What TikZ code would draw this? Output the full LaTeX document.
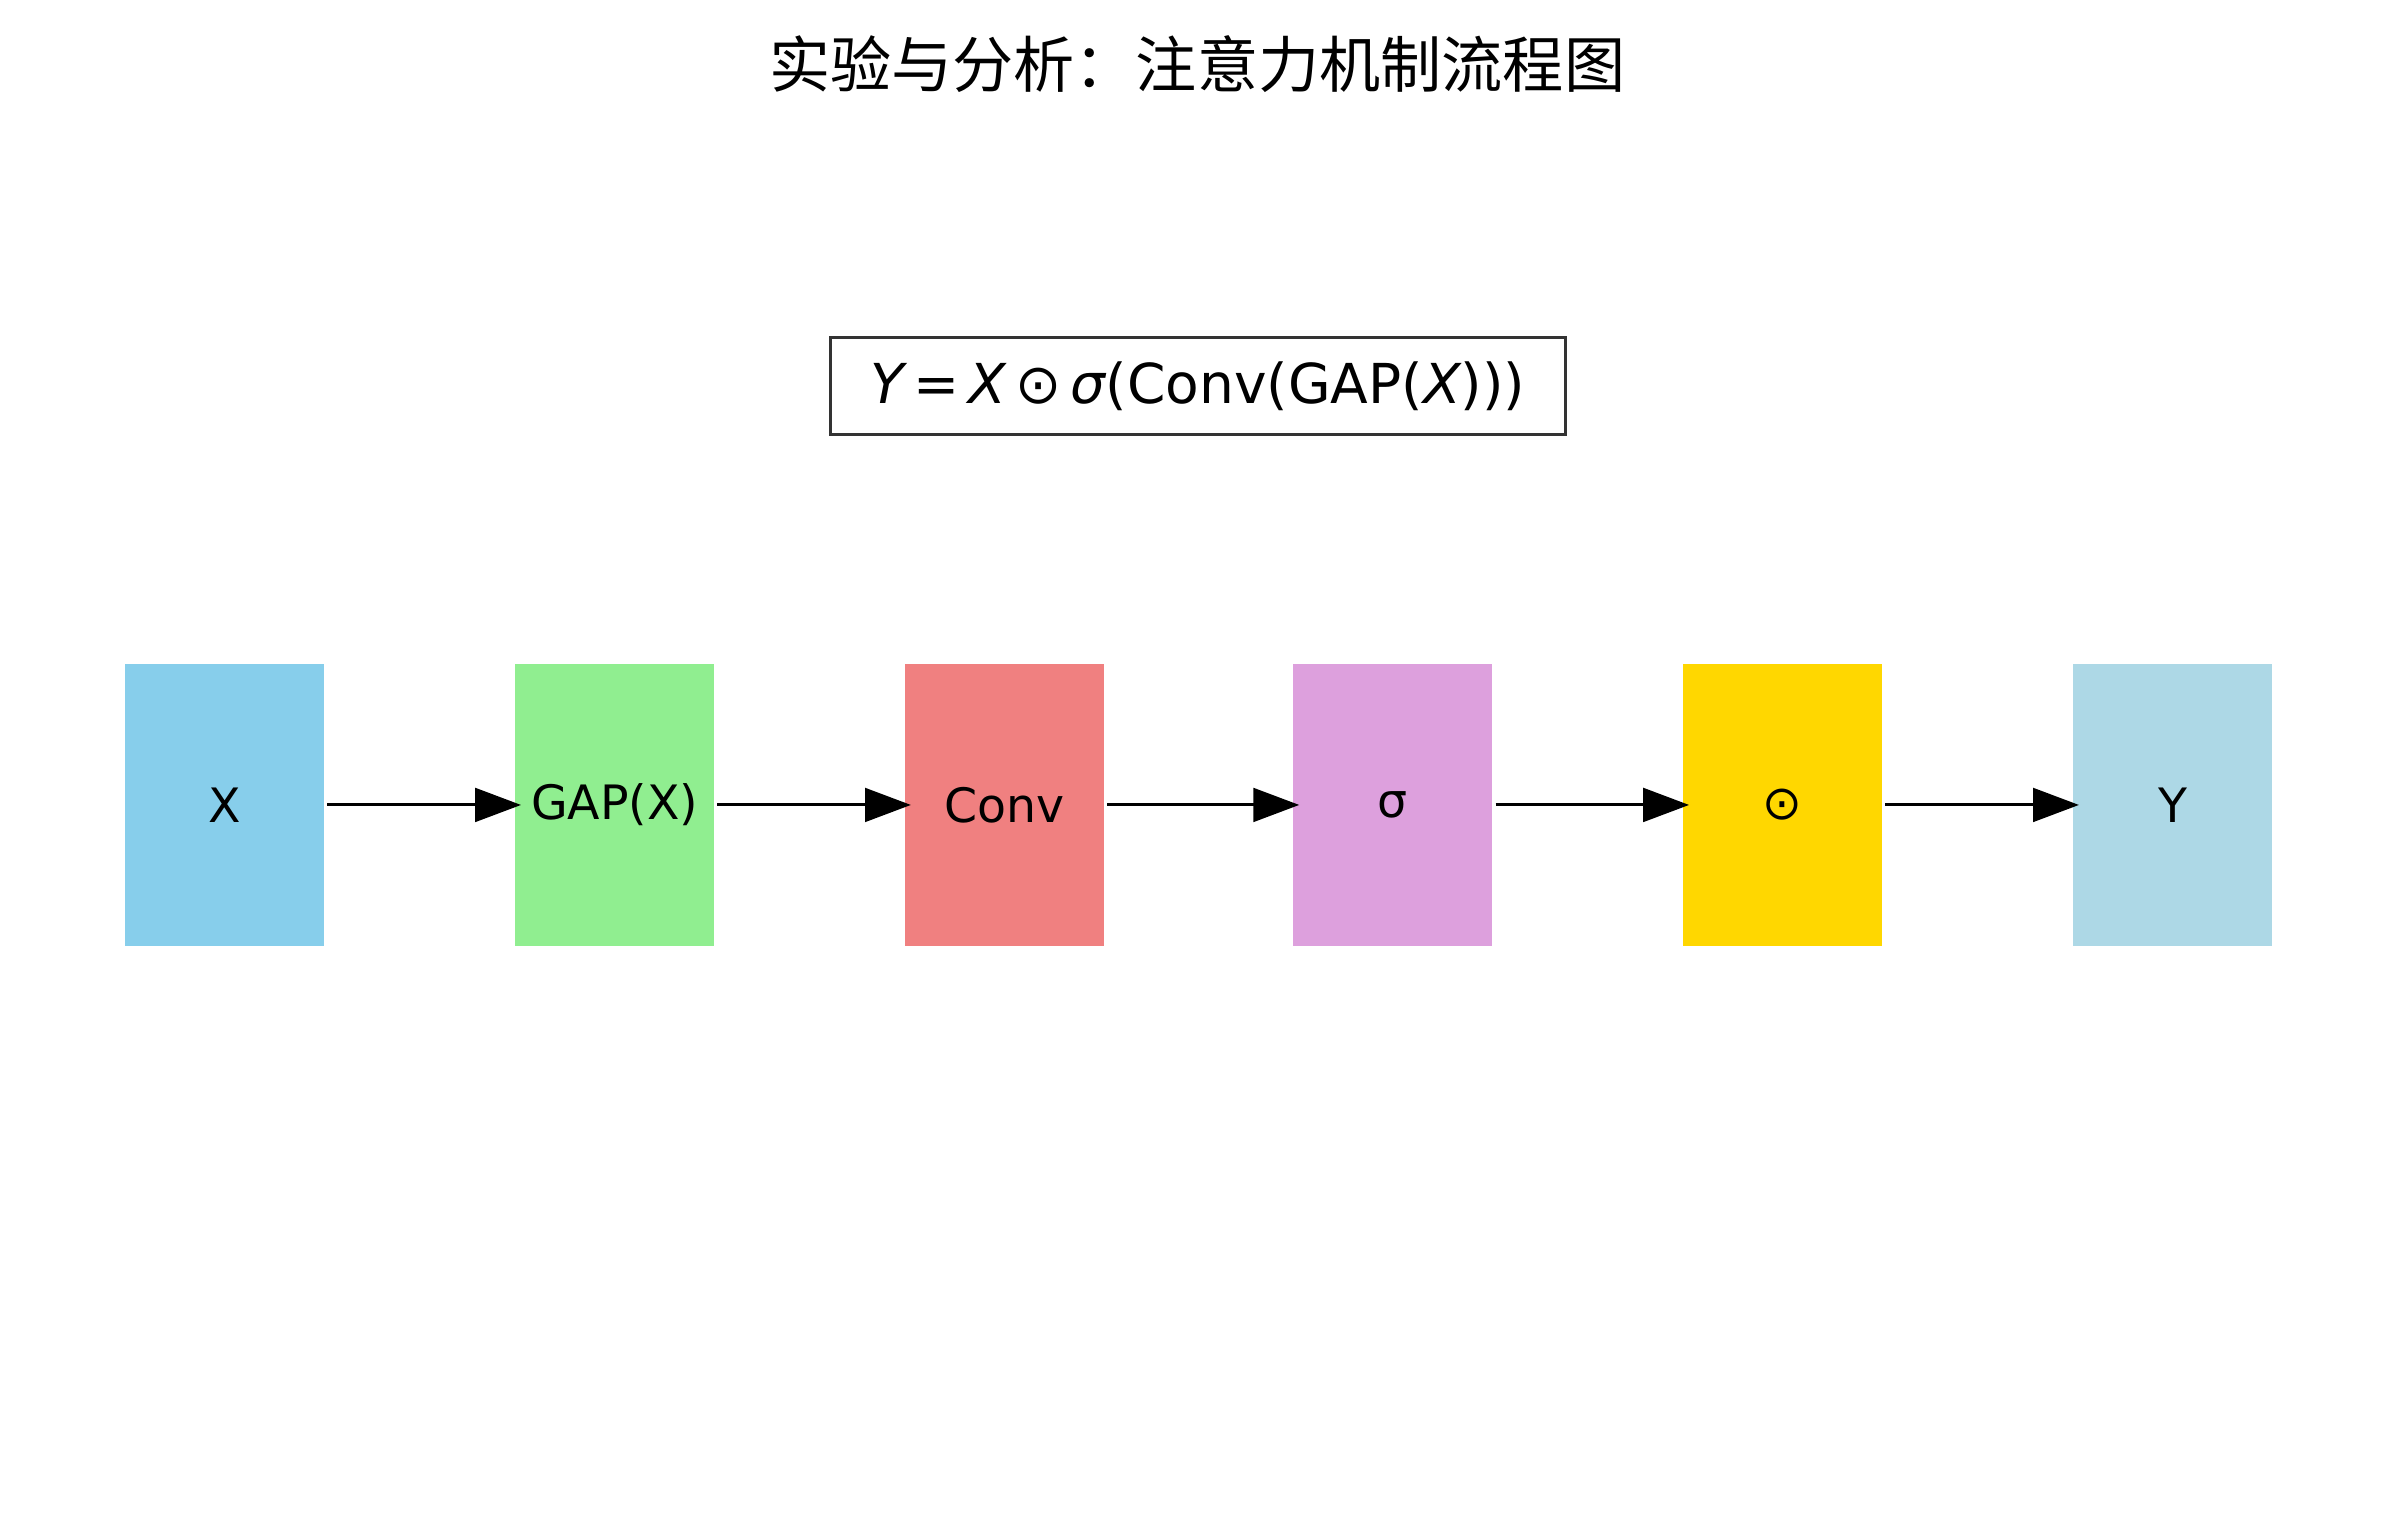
\documentclass[tikz,border=0pt]{standalone}
\usepackage{fontspec}
\setmainfont{DejaVu Sans}
\newfontfamily\cjk{Noto Sans CJK SC}
\newfontfamily\djit{DejaVu Sans Oblique}
\usetikzlibrary{arrows.meta}
\definecolor{cA}{HTML}{87CEEB}
\definecolor{cB}{HTML}{90EE90}
\definecolor{cC}{HTML}{F08080}
\definecolor{cD}{HTML}{DDA0DD}
\definecolor{cE}{HTML}{FFD700}
\definecolor{cF}{HTML}{ADD8E6}
\tikzset{
  blk/.style={minimum width=130pt,minimum height=185pt,inner sep=0pt,font=\fontsize{31}{36}\selectfont},
  conn/.style={line width=2pt,-{Triangle[length=30pt,width=22pt]},shorten <=2pt,shorten >=-4pt}
}
\begin{document}
\begin{tikzpicture}[x=1pt,y=-1pt]
\useasboundingbox (0,0) rectangle (1560,997);
\node[font=\cjk\fontsize{40}{46}\selectfont] (title) at (783,42) {实验与分析：注意力机制流程图};
\node[draw=black!80,line width=2pt,minimum width=481pt,minimum height=63pt,inner sep=0pt,font=\fontsize{36}{42}\selectfont] (eq) at (783.5,252.5) {{\djit Y}\,=\,{\djit X}\,⊙\,{\djit σ}(Conv(GAP({\djit X})))};
\node[blk,fill=cA] (x) at (147,526.5) {X};
\node[blk,fill=cB] (gap) at (402,526.5) {GAP(X)};
\node[blk,fill=cC] (conv) at (657,526.5) {Conv};
\node[blk,fill=cD] (sig) at (911,526.5) {σ};
\node[blk,fill=cE] (dot) at (1166,526.5) {⊙};
\node[blk,fill=cF] (y) at (1421,526.5) {Y};
\draw[conn] (x.east) -- (gap.west);
\draw[conn] (gap.east) -- (conv.west);
\draw[conn] (conv.east) -- (sig.west);
\draw[conn] (sig.east) -- (dot.west);
\draw[conn] (dot.east) -- (y.west);
\end{tikzpicture}
\end{document}
